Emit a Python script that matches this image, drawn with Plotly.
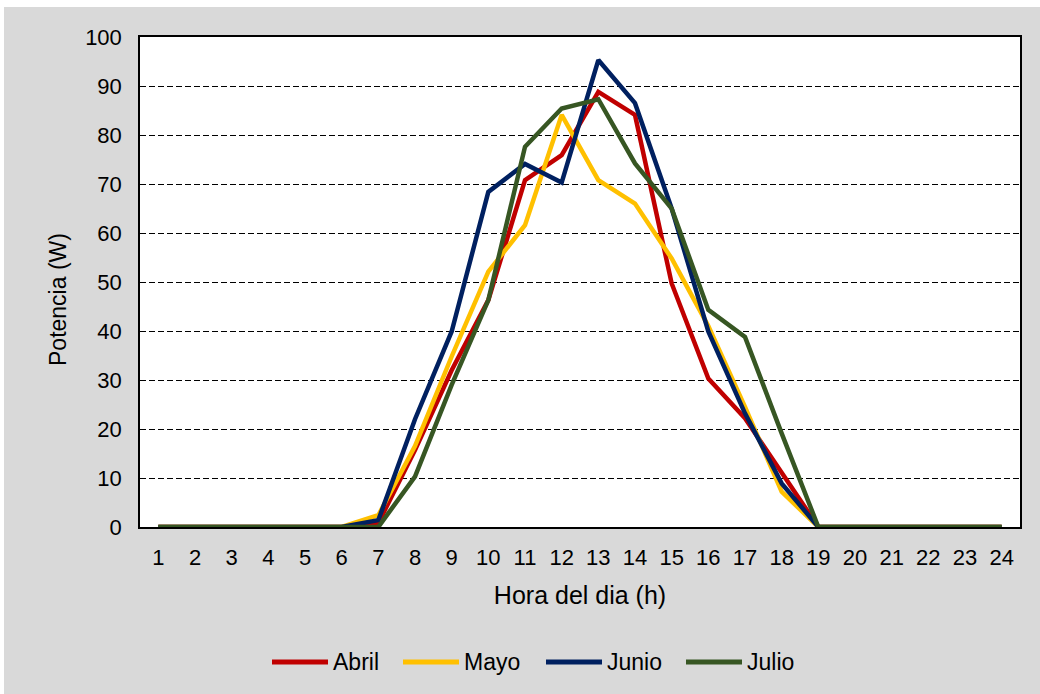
import plotly.graph_objects as go

# Hourly power profile (W) for each month
horas = list(range(1, 25))
abril = [0, 0, 0, 0, 0, 0, 0.8, 15.7, 32, 46.3, 70.8, 75.9, 88.8, 84.1, 49.7, 30.3, 22.2, 11, 0, 0, 0, 0, 0, 0]
mayo = [0, 0, 0, 0, 0, 0, 2.4, 16.5, 34.8, 52.1, 61.6, 84.1, 70.8, 66, 54.8, 41, 24.5, 7.2, 0, 0, 0, 0, 0, 0]
junio = [0, 0, 0, 0, 0, 0, 1.4, 22, 39.9, 68.4, 74.1, 70.3, 95.3, 86.5, 65, 39.9, 23.2, 8.9, 0, 0, 0, 0, 0, 0]
julio = [0, 0, 0, 0, 0, 0, 0, 10.3, 29, 46.3, 77.6, 85.4, 87.3, 74.2, 65, 44.3, 38.8, 19.1, 0, 0, 0, 0, 0, 0]

series = [
    ("Abril", abril, "#C00000"),
    ("Mayo", mayo, "#FFC000"),
    ("Junio", junio, "#002060"),
    ("Julio", julio, "#375623"),
]

FONT = "Liberation Sans, Arial, sans-serif"

# page geometry (px)
W, H = 1040, 694
L, R, T, B = 140, 20, 37, 167
PW, PH = W - L - R, H - T - B


def px_x(px):
    return (px - L) / PW


def px_y(py):
    return (H - B - py) / PH


fig = go.Figure()
for nombre, valores, color in series:
    fig.add_trace(go.Scatter(
        x=horas, y=valores, name=nombre, mode="lines",
        line=dict(color=color, width=4.5),
        showlegend=False,
    ))

# legend drawn below the axis: a long line sample followed by the label
legend_left = [272, 403, 546, 686]
legend_y = 662
seg = 56
shapes = [
    # thin white strip along the top and left edges of the page
    dict(type="rect", xref="paper", yref="paper",
         x0=px_x(-20), x1=px_x(W + 20), y0=px_y(7), y1=px_y(-20),
         fillcolor="white", line=dict(width=0), layer="below"),
    dict(type="rect", xref="paper", yref="paper",
         x0=px_x(-20), x1=px_x(4), y0=px_y(H + 20), y1=px_y(-20),
         fillcolor="white", line=dict(width=0), layer="below"),
]
annotations = [
    # vertical axis title
    dict(xref="paper", yref="paper", x=px_x(58), y=px_y(300),
         xanchor="center", yanchor="middle", showarrow=False, textangle=-90,
         text="Potencia (W)", font=dict(family=FONT, size=23, color="black")),
]
for (nombre, _, color), x0 in zip(series, legend_left):
    shapes.append(dict(
        type="line", xref="paper", yref="paper",
        x0=px_x(x0), x1=px_x(x0 + seg), y0=px_y(legend_y), y1=px_y(legend_y),
        line=dict(color=color, width=5),
    ))
    annotations.append(dict(
        xref="paper", yref="paper", x=px_x(x0 + seg + 3), y=px_y(legend_y),
        xanchor="left", yanchor="middle", showarrow=False,
        text=nombre, font=dict(family=FONT, size=23, color="black"),
    ))

fig.update_layout(
    width=W, height=H,
    paper_bgcolor="#d9d9d9",
    plot_bgcolor="white",
    margin=dict(l=L, r=R, t=T, b=B),
    font=dict(family=FONT, size=22, color="black"),
    showlegend=False,
    shapes=shapes,
    annotations=annotations,
)

fig.update_xaxes(
    type="linear", range=[0.5, 24.5],
    tickmode="array", tickvals=horas, ticktext=[str(h) for h in horas],
    showgrid=False, zeroline=False,
    showline=True, linecolor="black", linewidth=1.5, mirror=True,
    ticks="", ticklabelstandoff=10,
    title=dict(text="Hora del dia (h)", font=dict(size=25), standoff=17),
    tickfont=dict(size=22),
)
fig.update_yaxes(
    range=[0, 100], dtick=10,
    showgrid=True, gridcolor="black", gridwidth=1.3, griddash="6px,3px",
    zeroline=False,
    showline=True, linecolor="black", linewidth=1.5, mirror=True,
    ticks="", ticklabelstandoff=12,
    tickfont=dict(size=22),
)

fig.write_html("out.html")
